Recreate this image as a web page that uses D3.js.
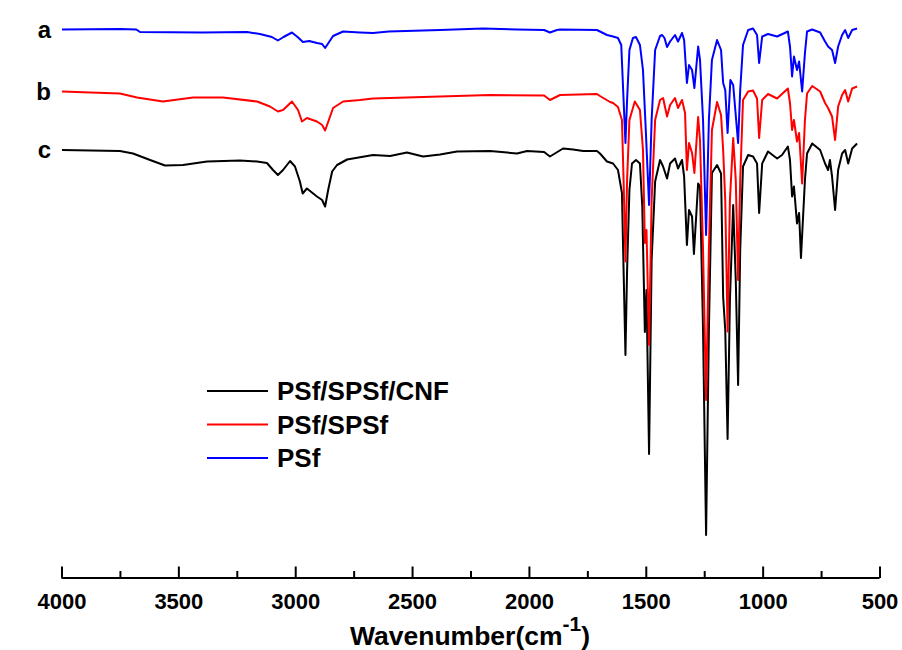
<!DOCTYPE html>
<html>
<head>
<meta charset="utf-8">
<script src="https://cdn.jsdelivr.net/npm/d3@7"></script>
<style>
  html, body { margin: 0; padding: 0; background: #fff; }
  svg { display: block; font-family: Arial, "Liberation Sans", sans-serif; }
</style>
</head>
<body>
<svg id="chart" width="902" height="650"></svg>
<script>
// ---------------- DATA ----------------
const seriesNames = ["PSf/SPSf/CNF", "PSf/SPSf", "PSf"];
const curveLabels = ["c", "b", "a"];
const majorTicks = [4000, 3500, 3000, 2500, 2000, 1500, 1000, 500];
const minorTicks = [3750, 3250, 2750, 2250, 1750, 1250, 750];
const xTitle = "Wavenumber(cm";
const xTitleSup = "-1";

// [wavenumber (cm-1), transmittance (a.u., stacked)]
const psfSpsfCnf = [
  [3998,85],[3750,84.8],[3694,84.3],[3621,83],[3557,81.9],[3480,82],[3377,82.7],[3236,82.9],
  [3163,82.7],[3121,82.4],[3095,81],[3074,80],[3052,81],[3022,82.8],[3001,81.7],[2980,78.7],
  [2968,76.3],[2950,77.3],[2907,75.7],[2885,75],[2872,73.7],[2859,77],[2842,80.7],[2821,82],
  [2778,83.1],[2667,84],[2594,83.8],[2522,84.5],[2453,83.7],[2380,84.1],[2308,84.7],[2166,84.8],
  [2051,84.3],[2008,84.8],[1935,84.6],[1910,83.7],[1854,85.3],[1811,85.1],[1768,84.8],[1709,84.8],
  [1696,84.3],[1666,82.7],[1640,82.3],[1619,81],[1602,76.4],[1595,61],[1587,44],[1580,61],
  [1570,77],[1559,82.3],[1542,83],[1525,82.3],[1515,73.7],[1504,48.6],[1497,57],[1486,24.2],
  [1475,63],[1460,78.7],[1439,83],[1426,81.7],[1409,79.3],[1396,82.3],[1375,83.3],[1362,81.3],
  [1345,83],[1336,79.7],[1324,66],[1315,73],[1302,71.7],[1294,64.2],[1276,78.3],[1268,77.7],
  [1255,49],[1242,8],[1230,49],[1217,80.4],[1195,82],[1178,80.3],[1169,55.6],[1160,49],
  [1150,27.2],[1140,55],[1126,74],[1115,59],[1105,38],[1096,65],[1084,81.7],[1062,84],
  [1041,83.7],[1024,82.3],[1015,72.4],[1002,82.3],[977,84.7],[938,83.3],[917,84],[892,85.7],
  [883,83],[874,75.7],[866,77.7],[853,70.3],[844,72.4],[836,63.4],[819,79],[810,84.3],
  [788,86.3],[754,85],[733,82.3],[720,81],[712,83],[703,79.7],[690,73],[677,81],
  [660,84.3],[647,85],[634,82.3],[617,85.3],[596,86.3]
];

const psfSpsf = [
  [3998,96.7],[3750,96.3],[3677,95.5],[3566,94.7],[3437,95.5],[3309,95.5],[3163,94.7],[3108,93.7],
  [3074,92.7],[3052,93],[3014,94.7],[2988,93],[2971,90.7],[2950,91.4],[2907,90.7],[2885,90],
  [2872,88.9],[2838,93.4],[2795,94.7],[2723,95],[2667,95.3],[2380,95.7],[2166,96],[1935,95.9],
  [1910,95],[1867,96],[1709,96.2],[1696,95.8],[1653,94.6],[1640,94.4],[1619,93.6],[1602,91],
  [1595,79],[1587,62.7],[1580,79],[1570,91],[1547,94.7],[1525,93],[1512,85],[1504,66.4],
  [1497,69],[1486,46],[1475,75],[1460,91],[1439,95],[1426,95.4],[1409,91.7],[1396,94],
  [1375,95.4],[1362,93.4],[1345,95],[1332,92.4],[1324,81],[1315,86.4],[1302,84.4],[1292,80.4],
  [1276,91.6],[1268,87],[1255,65],[1242,35],[1230,65],[1217,89],[1195,94.6],[1178,92],
  [1169,85],[1160,75],[1150,48.7],[1140,75],[1126,87.4],[1115,79],[1105,59],[1096,79],
  [1084,95],[1062,96.7],[1041,96.9],[1024,95.3],[1015,87.4],[1002,95],[977,96.2],[938,95.3],
  [892,97.3],[883,94.4],[874,89],[866,91],[853,86.7],[844,88.4],[831,78.3],[819,91],
  [810,96.3],[788,97.8],[754,96.7],[733,94.4],[720,93.4],[703,91.7],[690,87],[677,93.7],
  [660,96],[647,97],[634,94.7],[617,97.3],[596,97.7]
];

const psf = [
  [3998,109.1],[3750,109.2],[3680,109.1],[3664,108.6],[3400,108.5],[3206,108.6],[3151,108.2],[3100,107.6],
  [3074,106.9],[3050,107.6],[3014,108.5],[2990,107.6],[2967,106.6],[2940,106.8],[2907,106.4],[2885,106.2],
  [2872,105.4],[2855,106.6],[2838,107.8],[2795,108.7],[2723,108.5],[2667,108.4],[2600,108.7],[2380,109],
  [2197,109.3],[2050,109.1],[1935,109],[1910,108.5],[1880,109],[1867,109.1],[1709,109],[1696,108.7],
  [1666,108],[1640,107.7],[1619,107.4],[1605,106],[1595,95],[1587,86.4],[1580,95],[1570,105],
  [1555,107.4],[1542,107.6],[1525,106],[1512,101],[1500,89],[1486,74],[1475,91],[1460,105],
  [1439,107.8],[1430,108],[1420,107.4],[1409,105.6],[1396,106.7],[1375,108],[1362,106.7],[1345,108.4],
  [1336,107],[1324,98.4],[1315,102],[1302,101],[1292,97.4],[1276,105.7],[1268,103],[1255,91],
  [1242,68],[1230,91],[1217,103],[1195,107],[1178,105],[1169,98.4],[1160,97],[1150,88.4],
  [1138,99],[1126,98],[1105,86.4],[1096,97],[1084,106],[1062,109],[1041,109.3],[1024,108],
  [1015,102.4],[1002,107.7],[977,108.2],[938,107.7],[892,108.7],[883,105.7],[874,99.7],[866,103.7],
  [853,101],[844,102.7],[831,96.7],[819,104.4],[810,108.7],[788,109.1],[754,108.5],[733,106.7],
  [720,105.7],[703,105],[690,102.4],[677,105.7],[660,108],[647,109],[634,107.4],[617,109],
  [596,109.3]
];

const seriesData = [psfSpsfCnf, psfSpsf, psf];

// ---------------- DRAWING ----------------
const svg = d3.select("#chart");
const colors = ["#000000", "#ff0000", "#0000ff"];

const x = d3.scaleLinear().domain([4000, 500]).range([61.5, 879.5]);
const y = d3.scaleLinear().domain([0, 110]).range([575, 25]);
const axisY = 578;

const line = d3.line().x(d => x(d[0])).y(d => y(d[1]));

// spectra (black first, blue on top)
svg.append("g").selectAll("path")
  .data(seriesData)
  .join("path")
  .attr("d", d => line(d))
  .attr("fill", "none")
  .attr("stroke", (d, i) => colors[i])
  .attr("stroke-width", 2)
  .attr("stroke-linejoin", "round");

// curve labels a, b, c
svg.append("g").selectAll("text")
  .data(seriesData)
  .join("text")
  .attr("x", 51)
  .attr("y", d => y(d[0][1]) + 8)
  .attr("text-anchor", "end")
  .attr("font-weight", "bold")
  .attr("font-size", 24)
  .text((d, i) => curveLabels[i]);

// bottom axis with inward ticks
const axisMajor = d3.axisBottom(x)
  .tickValues(majorTicks)
  .tickSizeInner(-11.5)
  .tickSizeOuter(0)
  .tickPadding(0)
  .tickFormat(d3.format("d"));

const gAxis = svg.append("g").attr("transform", `translate(0,${axisY})`).call(axisMajor);
gAxis.select(".domain").attr("stroke", "#000").attr("stroke-width", 2)
  .attr("d", `M${x(4000)},0H${x(500)}`);
gAxis.selectAll(".tick line").attr("stroke", "#000").attr("stroke-width", 2);
gAxis.selectAll(".tick text")
  .attr("y", 31)
  .attr("dy", null)
  .attr("fill", "#000")
  .attr("font-size", 22)
  .attr("font-weight", "bold")
  .attr("font-family", "Arial, 'Liberation Sans', sans-serif");

const axisMinor = d3.axisBottom(x)
  .tickValues(minorTicks)
  .tickSizeInner(-7)
  .tickSizeOuter(0)
  .tickFormat("");
const gMinor = svg.append("g").attr("transform", `translate(0,${axisY})`).call(axisMinor);
gMinor.select(".domain").remove();
gMinor.selectAll(".tick line").attr("stroke", "#000").attr("stroke-width", 2);

// axis title
const title = svg.append("text")
  .attr("x", 470)
  .attr("y", 645)
  .attr("text-anchor", "middle")
  .attr("font-weight", "bold")
  .attr("font-size", 26.5);
title.append("tspan").text(xTitle);
title.append("tspan").attr("font-size", 21).attr("dy", -14).text(xTitleSup);
title.append("tspan").attr("dy", 14).text(")");

// legend
const legend = svg.append("g");
const legendOrder = [0, 1, 2];
const lg = legend.selectAll("g")
  .data(legendOrder)
  .join("g")
  .attr("transform", (d, i) => `translate(207,${391 + i * 33.5})`);
lg.append("line")
  .attr("x1", 0).attr("x2", 61)
  .attr("y1", 0).attr("y2", 0)
  .attr("stroke", d => colors[d])
  .attr("stroke-width", 1.8);
lg.append("text")
  .attr("x", 70)
  .attr("y", 9)
  .attr("font-weight", "bold")
  .attr("font-size", 26)
  .text(d => seriesNames[d]);
</script>
</body>
</html>
